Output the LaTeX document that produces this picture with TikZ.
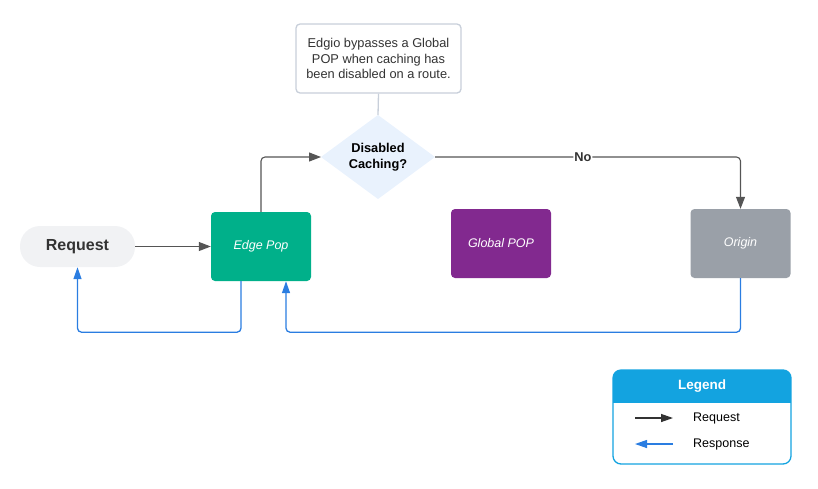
\documentclass[tikz,border=0pt]{standalone}
\usepackage{fontspec}
\setmainfont{Liberation Sans}
\usetikzlibrary{arrows.meta,positioning}
\definecolor{edgegreen}{HTML}{00B08A}
\definecolor{globpurple}{HTML}{82298F}
\definecolor{origray}{HTML}{9AA0A8}
\definecolor{reqfill}{HTML}{F1F2F4}
\definecolor{diafill}{HTML}{E9F2FD}
\definecolor{noteborder}{HTML}{C8CFDA}
\definecolor{txtdark}{HTML}{333333}
\definecolor{reqline}{HTML}{555555}
\definecolor{respline}{HTML}{2A7DE1}
\definecolor{legblue}{HTML}{13A3E0}
\tikzset{
  boxnode/.style={rounded corners=4pt, minimum width=100pt, minimum height=69pt, inner sep=0pt,
    text=white, font=\fontsize{12.5}{15}\selectfont\itshape},
  reqarrow/.style={draw=reqline, line width=1.1pt, rounded corners=4pt, -{Triangle[length=12pt,width=9pt]}},
  resparrow/.style={draw=respline, line width=1.3pt, rounded corners=4pt, -{Triangle[length=12pt,width=8pt]}},
  legtext/.style={font=\fontsize{12.5}{15}\selectfont, text=black, anchor=west, inner sep=0pt}
}
\begin{document}
\begin{tikzpicture}[x=1pt,y=-1pt]
\useasboundingbox (0,0) rectangle (818,488);
% note
\node[draw=noteborder, line width=1.3pt, rounded corners=4pt, fill=white, minimum width=165pt, minimum height=69pt,
  align=center, text=txtdark, font=\fontsize{12.8}{15.5}\selectfont, inner sep=0pt] (note) at (378.5,58.5)
  {Edgio bypasses a Global\\POP when caching has\\been disabled on a route.};
% diamond
\coordinate (diaT) at (378,115);
\coordinate (diaB) at (378,199);
\coordinate (diaL) at (321,157);
\coordinate (diaR) at (435,157);
\fill[diafill] (diaT) -- (diaR) -- (diaB) -- (diaL) -- cycle;
\node[align=center, text=black, font=\fontsize{12.8}{15.5}\selectfont\bfseries, inner sep=0pt] (dia) at (378,157) {Disabled\\Caching?};
\draw[noteborder, line width=1.3pt] (note.south) -- (diaT);
% request
\node[fill=reqfill, rounded corners=20pt, minimum width=115pt, minimum height=41pt, inner sep=0pt,
  text=txtdark, font=\fontsize{16}{19}\selectfont\bfseries] (req) at (77.5,246.5) {Request};
% boxes
\node[boxnode, fill=edgegreen] (edge) at (261,246.5) {Edge Pop};
\node[boxnode, fill=globpurple] (glob) at (501,243.5) {Global POP};
\node[boxnode, fill=origray] (orig) at (740.5,243.5) {Origin};
% request arrows
\draw[reqarrow] (req.east) -- (edge.west);
\draw[reqarrow] (edge.north) |- (diaL);
\draw[reqarrow] (diaR) -| (orig.north)
  node[pos=0.242, fill=white, inner sep=1pt, text=txtdark, font=\fontsize{12.8}{15}\selectfont\bfseries] (nolab) {No};
% response arrows
\draw[resparrow] ([xshift=-20pt]edge.south) -- ++(0,51) -| (req.south);
\draw[resparrow] (orig.south) -- ++(0,54) -| ([xshift=25pt]edge.south);
% legend
\begin{scope}
\clip[rounded corners=8pt] (613,370) rectangle (791,464);
\fill[legblue] (613,370) rectangle (791,402);
\end{scope}
\node[draw=legblue, line width=1.3pt, rounded corners=8pt, minimum width=178pt, minimum height=94pt, inner sep=0pt] (leg) at (702,417) {};
\draw[legblue, line width=1pt] (613,402) -- (791,402);
\node[text=white, font=\fontsize{13.5}{15}\selectfont\bfseries] (legtitle) at (702,386.5) {Legend};
\coordinate (l1a) at (635,418);
\coordinate (l1b) at (673,418);
\coordinate (l2a) at (673,444);
\coordinate (l2b) at (635,444);
\draw[draw=txtdark, line width=1.3pt, -{Triangle[length=12pt,width=8pt]}] (l1a) -- (l1b);
\draw[draw=respline, line width=1.3pt, -{Triangle[length=12pt,width=8pt]}] (l2a) -- (l2b);
\node[legtext] (lreq) at (693,418) {Request};
\node[legtext] (lresp) at (693,444) {Response};
\end{tikzpicture}
\end{document}
